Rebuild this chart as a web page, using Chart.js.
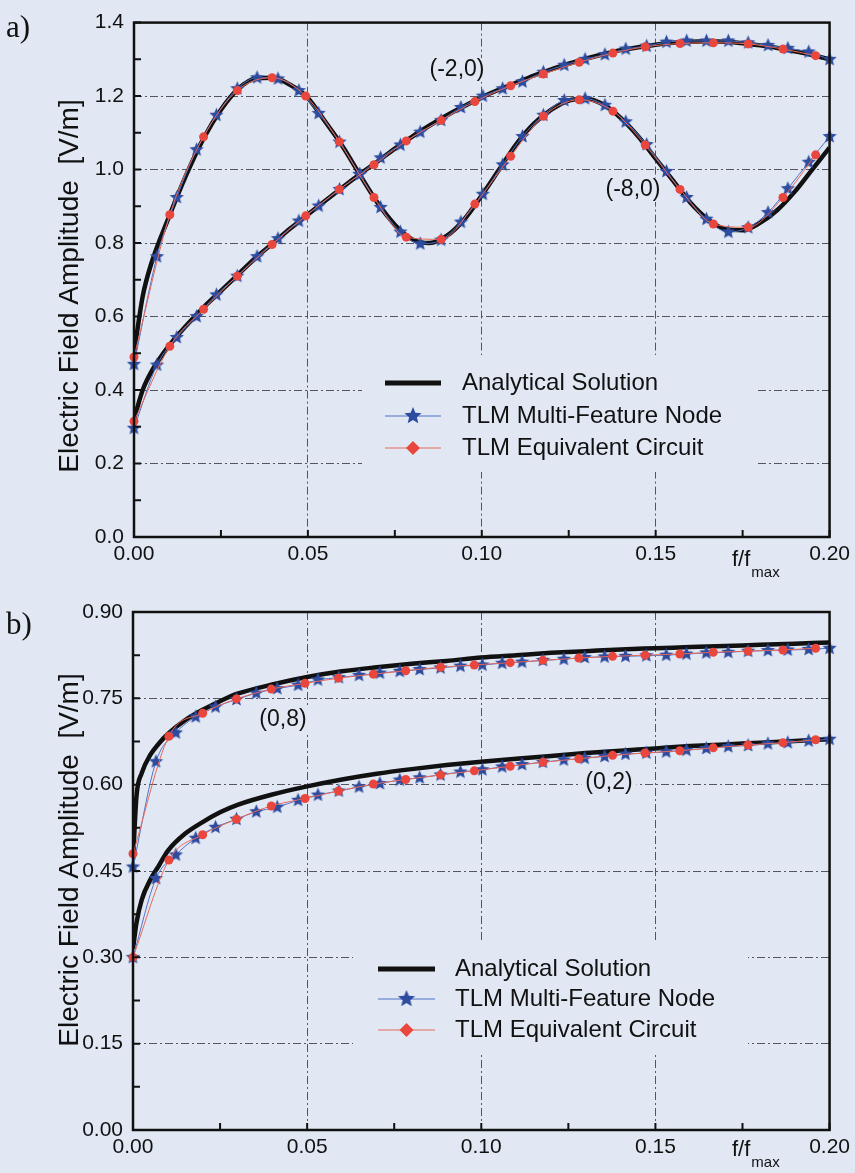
<!DOCTYPE html>
<html>
<head>
<meta charset="utf-8">
<script src="https://cdn.jsdelivr.net/npm/chart.js@4.4.1/dist/chart.umd.min.js"></script>
<style>
  body { margin: 0; background: #e1e8f3; }
  canvas { display: block; }
</style>
</head>
<body>
<canvas id="chartA" width="855" height="580"></canvas>
<canvas id="chartB" width="855" height="593"></canvas>
<script>
// ---------------------------------------------------------------- data
// frequency (f/fmax) sample positions
const fStar = [0, 0.0066, 0.0123, 0.018, 0.0237, 0.0297, 0.0354, 0.0414, 0.0474, 0.0531,
  0.0591, 0.0649, 0.0709, 0.0766, 0.0823, 0.0883, 0.094, 0.1003, 0.106, 0.1117,
  0.1177, 0.1237, 0.1297, 0.1354, 0.1414, 0.1474, 0.1531, 0.1589, 0.1646, 0.1709,
  0.1766, 0.1823, 0.188, 0.194, 0.2];
const fRed = [0, 0.0103, 0.02, 0.0297, 0.0397, 0.0494, 0.059, 0.069, 0.0783, 0.0883,
  0.098, 0.1083, 0.1177, 0.128, 0.1377, 0.147, 0.157, 0.1666, 0.1766, 0.1866, 0.196];
const fAnaA = [0, 0.0025, 0.005, 0.01, 0.015, 0.02, 0.025, 0.03, 0.035, 0.04, 0.045, 0.05,
  0.055, 0.06, 0.065, 0.07, 0.075, 0.08, 0.085, 0.09, 0.095, 0.1, 0.105, 0.11, 0.115, 0.12,
  0.125, 0.13, 0.135, 0.14, 0.145, 0.15, 0.155, 0.16, 0.165, 0.17, 0.175, 0.18, 0.185,
  0.19, 0.195, 0.2];
const fAnaB = [0, 0.001, 0.0025, 0.005, 0.0075, 0.01, 0.015, 0.02, 0.025, 0.03, 0.04, 0.05,
  0.06, 0.07, 0.08, 0.09, 0.1, 0.11, 0.12, 0.13, 0.14, 0.15, 0.16, 0.17, 0.18, 0.19, 0.2];

// panel a) analytical solution
const anaA_m8 = [0.50, 0.655, 0.745, 0.87, 0.985, 1.085, 1.163, 1.22, 1.248, 1.25, 1.23, 1.195,
  1.13, 1.063, 0.985, 0.91, 0.85, 0.81, 0.80, 0.82, 0.865, 0.93, 1.0, 1.07, 1.125, 1.163,
  1.188, 1.193, 1.177, 1.14, 1.09, 1.03, 0.97, 0.91, 0.865, 0.838, 0.835, 0.855, 0.89,
  0.94, 1.0, 1.06];
const anaA_m2 = [0.32, 0.40, 0.45, 0.52, 0.575, 0.625, 0.67, 0.715, 0.76, 0.80, 0.84, 0.878,
  0.915, 0.952, 0.988, 1.022, 1.057, 1.09, 1.12, 1.148, 1.173, 1.197, 1.218, 1.237, 1.256,
  1.273, 1.288, 1.302, 1.314, 1.325, 1.333, 1.34, 1.345, 1.348, 1.349, 1.348, 1.344, 1.338,
  1.331, 1.322, 1.312, 1.30];
// panel a) TLM multi-feature node (stars)
const starA_m8 = [0.47, 0.763, 0.924, 1.054, 1.148, 1.22, 1.25, 1.247, 1.215, 1.153, 1.075,
  0.987, 0.897, 0.83, 0.798, 0.808, 0.857, 0.933, 1.013, 1.09, 1.148, 1.188, 1.193, 1.175,
  1.13, 1.068, 0.995, 0.924, 0.865, 0.83, 0.842, 0.883, 0.948, 1.02, 1.09];
const starA_m2 = [0.296, 0.468, 0.543, 0.60, 0.659, 0.71, 0.763, 0.812, 0.86, 0.901, 0.946,
  0.987, 1.032, 1.067, 1.102, 1.134, 1.169, 1.2, 1.22, 1.239, 1.265, 1.284, 1.30, 1.313,
  1.328, 1.336, 1.347, 1.35, 1.35, 1.35, 1.345, 1.338, 1.33, 1.32, 1.30];
// panel a) TLM equivalent circuit (red)
const redA_m8 = [0.49, 0.877, 1.089, 1.215, 1.25, 1.2, 1.076, 0.924, 0.816, 0.81, 0.906,
  1.036, 1.145, 1.19, 1.159, 1.067, 0.946, 0.852, 0.843, 0.924, 1.04];
const redA_m2 = [0.315, 0.519, 0.62, 0.71, 0.796, 0.874, 0.946, 1.013, 1.078, 1.134, 1.185,
  1.228, 1.26, 1.292, 1.317, 1.334, 1.343, 1.345, 1.342, 1.328, 1.31];

// panel b)
const anaB_08 = [0.47, 0.58, 0.62, 0.652, 0.672, 0.688, 0.712, 0.73, 0.745, 0.758, 0.774,
  0.787, 0.797, 0.804, 0.81, 0.815, 0.821, 0.825, 0.829, 0.832, 0.835, 0.837, 0.839, 0.841,
  0.843, 0.845, 0.847];
const anaB_02 = [0.315, 0.36, 0.40, 0.435, 0.46, 0.485, 0.515, 0.535, 0.552, 0.565, 0.583,
  0.597, 0.609, 0.619, 0.627, 0.634, 0.64, 0.645, 0.65, 0.655, 0.659, 0.663, 0.667, 0.67,
  0.673, 0.676, 0.679];
const starB_08 = [0.457, 0.64, 0.69, 0.718, 0.735, 0.748, 0.759, 0.767, 0.773, 0.782, 0.786,
  0.79, 0.794, 0.797, 0.80, 0.803, 0.806, 0.808, 0.811, 0.813, 0.816, 0.818, 0.821, 0.822,
  0.823, 0.824, 0.825, 0.827, 0.829, 0.83, 0.832, 0.833, 0.834, 0.835, 0.837];
const starB_02 = [0.30, 0.437, 0.478, 0.507, 0.526, 0.54, 0.553, 0.561, 0.573, 0.582, 0.589,
  0.596, 0.602, 0.608, 0.612, 0.617, 0.622, 0.626, 0.631, 0.635, 0.639, 0.643, 0.646, 0.649,
  0.653, 0.655, 0.657, 0.66, 0.663, 0.666, 0.668, 0.671, 0.673, 0.676, 0.679];
const redB_08 = [0.48, 0.684, 0.724, 0.749, 0.766, 0.776, 0.785, 0.792, 0.798, 0.804, 0.808,
  0.812, 0.816, 0.82, 0.823, 0.825, 0.827, 0.83, 0.832, 0.834, 0.837];
const redB_02 = [0.30, 0.469, 0.513, 0.54, 0.563, 0.576, 0.589, 0.601, 0.609, 0.617, 0.624,
  0.632, 0.639, 0.645, 0.651, 0.655, 0.659, 0.664, 0.669, 0.673, 0.678];

// ticks
const xTicks = [0, 0.05, 0.1, 0.15, 0.2];
const xMinor = [0.025, 0.075, 0.125, 0.175];
const yTicksA = [0, 0.2, 0.4, 0.6, 0.8, 1.0, 1.2, 1.4];
const yMinorA = [0.1, 0.3, 0.5, 0.7, 0.9, 1.1, 1.3];
const yTicksB = [0, 0.15, 0.3, 0.45, 0.6, 0.75, 0.9];
const yMinorB = [0.075, 0.225, 0.375, 0.525, 0.675, 0.825];

const legendNames = ['Analytical Solution', 'TLM Multi-Feature Node', 'TLM Equivalent Circuit'];

// ---------------------------------------------------------------- styles
const BG = '#e1e8f3';
const INK = '#111111';
const STAR_BLUE = '#2d4b9f';
const BLUE_LINE = '#4f72c9';
const RED = '#e9473d';
const RED_LINE = '#e8685a';
const GRID = '#55555f';
const FONT = "'Liberation Sans', Arial, sans-serif";

function starImage(r, color) {
    var c = document.createElement('canvas');
    var s = Math.ceil(r * 2) + 2;
    c.width = s;
    c.height = s;
    var g = c.getContext('2d');
    g.fillStyle = color;
    g.beginPath();
    for (var i = 0; i < 10; i++) {
        var rad = i % 2 === 0 ? r : r * 0.45;
        var ang = -Math.PI / 2 + i * Math.PI / 5;
        g.lineTo(s / 2 + rad * Math.cos(ang), s / 2 + rad * Math.sin(ang));
    }
    g.closePath();
    g.fill();
    return c;
}
const starImg = starImage(7.5, STAR_BLUE);

function pts(xs, ys) {
    return xs.map(function (x, i) { return { x: x, y: ys[i] }; });
}

function anaSet(xs, ys) {
    return { data: pts(xs, ys), borderColor: INK, borderWidth: 4.5, pointRadius: 0,
        cubicInterpolationMode: 'monotone', order: 3 };
}
function starSet(xs, ys) {
    return { data: pts(xs, ys), borderColor: BLUE_LINE, borderWidth: 1, pointStyle: starImg,
        pointRadius: 7, cubicInterpolationMode: 'monotone', order: 2, clip: false };
}
function redSet(xs, ys) {
    return { data: pts(xs, ys), borderColor: RED_LINE, borderWidth: 1, pointStyle: 'circle',
        pointRadius: 4.5, pointBorderWidth: 0, pointBackgroundColor: RED,
        cubicInterpolationMode: 'monotone', order: 1, clip: false };
}

// ---------------------------------------------------------------- decorations
const decorPlugin = {
    id: 'decor',
    afterDatasetsDraw: function (chart, args, o) {
        var ctx = chart.ctx;
        var a = chart.chartArea;
        var xs = chart.scales.x;
        var ys = chart.scales.y;
        ctx.save();

        // legend background hides grid lines
        var lb = o.legendBox;
        ctx.fillStyle = BG;
        ctx.fillRect(lb[0], lb[1], lb[2] - lb[0], lb[3] - lb[1]);

        // curve labels
        ctx.font = '23px ' + FONT;
        ctx.textAlign = 'center';
        ctx.textBaseline = 'middle';
        o.curveLabels.forEach(function (l) {
            var w = ctx.measureText(l.text).width;
            ctx.fillStyle = BG;
            ctx.fillRect(l.x - w / 2 - 4, l.y - 12, w + 8, 24);
            ctx.fillStyle = INK;
            ctx.fillText(l.text, l.x, l.y);
        });

        // frame
        ctx.strokeStyle = INK;
        ctx.lineWidth = 2.5;
        ctx.strokeRect(a.left, a.top, a.right - a.left, a.bottom - a.top);

        // inward tick marks
        ctx.lineWidth = 2;
        ctx.beginPath();
        xTicks.concat(xMinor).forEach(function (v) {
            var px = xs.getPixelForValue(v);
            ctx.moveTo(px, a.bottom);
            ctx.lineTo(px, a.bottom - 7);
        });
        o.yTicks.concat(o.yMinor).forEach(function (v) {
            var py = ys.getPixelForValue(v);
            ctx.moveTo(a.left, py);
            ctx.lineTo(a.left + 7, py);
        });
        ctx.stroke();

        // legend
        var lg = o.legend;
        var mid = (lg.x0 + lg.x1) / 2;
        ctx.lineWidth = 5;
        ctx.strokeStyle = INK;
        ctx.beginPath();
        ctx.moveTo(lg.x0, lg.rows[0]);
        ctx.lineTo(lg.x1, lg.rows[0]);
        ctx.stroke();
        ctx.lineWidth = 1.2;
        ctx.strokeStyle = BLUE_LINE;
        ctx.beginPath();
        ctx.moveTo(lg.x0, lg.rows[1]);
        ctx.lineTo(lg.x1, lg.rows[1]);
        ctx.stroke();
        ctx.drawImage(starImage(9, STAR_BLUE), mid - 10, lg.rows[1] - 10);
        ctx.strokeStyle = RED_LINE;
        ctx.beginPath();
        ctx.moveTo(lg.x0, lg.rows[2]);
        ctx.lineTo(lg.x1, lg.rows[2]);
        ctx.stroke();
        ctx.fillStyle = RED;
        ctx.beginPath();
        ctx.moveTo(mid, lg.rows[2] - 7);
        ctx.lineTo(mid + 7, lg.rows[2]);
        ctx.lineTo(mid, lg.rows[2] + 7);
        ctx.lineTo(mid - 7, lg.rows[2]);
        ctx.closePath();
        ctx.fill();
        ctx.fillStyle = INK;
        ctx.font = '24px ' + FONT;
        ctx.textAlign = 'left';
        ctx.textBaseline = 'middle';
        legendNames.forEach(function (t, i) {
            ctx.fillText(t, lg.tx, lg.rows[i]);
        });

        // panel label
        ctx.font = "31px 'Liberation Serif', 'Times New Roman', serif";
        ctx.textBaseline = 'alphabetic';
        ctx.fillText(o.panel, 6, o.panelY);

        // x title f/fmax
        ctx.font = '22px ' + FONT;
        ctx.fillText('f/f', o.xTitle[0], o.xTitle[1]);
        var w = ctx.measureText('f/f').width;
        ctx.font = '15px ' + FONT;
        ctx.fillText('max', o.xTitle[0] + w + 1, o.xTitle[1] + 11);

        // y title
        ctx.translate(o.yTitle[0], o.yTitle[1]);
        ctx.rotate(-Math.PI / 2);
        ctx.font = '28px ' + FONT;
        ctx.textAlign = 'center';
        ctx.textBaseline = 'middle';
        ctx.fillText('Electric Field Amplitude  [V/m]', 0, 0);

        ctx.restore();
    }
};

function buildChart(id, cfg) {
    return new Chart(document.getElementById(id), {
        type: 'line',
        data: { datasets: cfg.datasets },
        options: {
            responsive: false,
            animation: false,
            devicePixelRatio: 1,
            layout: { padding: cfg.padding },
            plugins: {
                legend: { display: false },
                tooltip: { enabled: false },
                decor: cfg.decor
            },
            scales: {
                x: {
                    type: 'linear',
                    min: 0,
                    max: 0.2,
                    afterBuildTicks: function (s) {
                        s.ticks = xTicks.map(function (v) { return { value: v }; });
                    },
                    afterFit: function (s) { s.height = 43; },
                    ticks: {
                        callback: function (v) { return v.toFixed(2); },
                        font: { family: FONT, size: 21 },
                        color: INK,
                        padding: 5,
                        maxRotation: 0,
                        autoSkip: false
                    },
                    grid: { color: GRID, lineWidth: 1, drawTicks: false },
                    border: { display: false, dash: [8, 3, 2, 3] }
                },
                y: {
                    type: 'linear',
                    min: 0,
                    max: cfg.yMax,
                    afterBuildTicks: function (s) {
                        s.ticks = cfg.decor.yTicks.map(function (v) { return { value: v }; });
                    },
                    afterFit: function (s) { s.width = cfg.yWidth; },
                    ticks: {
                        callback: function (v) { return v.toFixed(cfg.digits); },
                        font: { family: FONT, size: 21 },
                        color: INK,
                        padding: 10
                    },
                    grid: { color: GRID, lineWidth: 1, drawTicks: false },
                    border: { display: false, dash: [8, 3, 2, 3] }
                }
            }
        },
        plugins: [decorPlugin]
    });
}

buildChart('chartA', {
    yMax: 1.4,
    digits: 1,
    yWidth: 134,
    padding: { top: 16, right: 20, bottom: 0, left: 0 },
    datasets: [
        anaSet(fAnaA, anaA_m2), anaSet(fAnaA, anaA_m8),
        starSet(fStar, starA_m2), starSet(fStar, starA_m8),
        redSet(fRed, redA_m2), redSet(fRed, redA_m8)
    ],
    decor: {
        yTicks: yTicksA,
        yMinor: yMinorA,
        legendBox: [362, 355, 755, 472],
        legend: { x0: 385, x1: 441, tx: 462, rows: [383, 416, 448] },
        curveLabels: [{ text: '(-2,0)', x: 457, y: 70 }, { text: '(-8,0)', x: 633, y: 190 }],
        panel: 'a)',
        panelY: 37,
        xTitle: [732, 566],
        yTitle: [70, 286]
    }
});

buildChart('chartB', {
    yMax: 0.9,
    digits: 2,
    yWidth: 133,
    padding: { top: 32, right: 23, bottom: 0, left: 0 },
    datasets: [
        anaSet(fAnaB, anaB_08), anaSet(fAnaB, anaB_02),
        starSet(fStar, starB_08), starSet(fStar, starB_02),
        redSet(fRed, redB_08), redSet(fRed, redB_02)
    ],
    decor: {
        yTicks: yTicksB,
        yMinor: yMinorB,
        legendBox: [353, 362, 748, 472],
        legend: { x0: 378, x1: 435, tx: 455, rows: [389, 419, 450] },
        curveLabels: [{ text: '(0,8)', x: 283, y: 140 }, { text: '(0,2)', x: 609, y: 203 }],
        panel: 'b)',
        panelY: 54,
        xTitle: [732, 576],
        yTitle: [70, 280]
    }
});
</script>
</body>
</html>
